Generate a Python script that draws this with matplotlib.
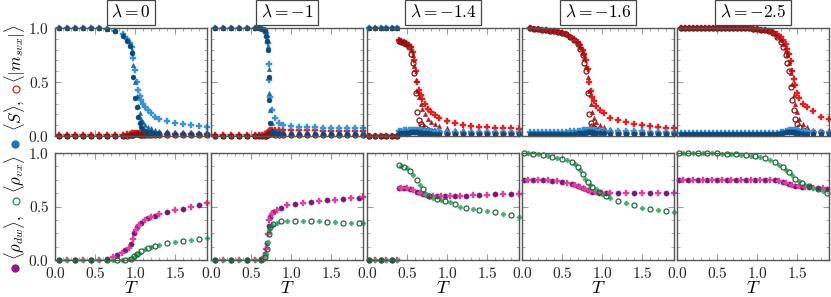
import matplotlib
matplotlib.use('Agg')
import matplotlib.pyplot as plt
from matplotlib.lines import Line2D
from matplotlib.ticker import MultipleLocator

plt.rcParams['mathtext.fontset'] = 'cm'
plt.rcParams['font.family'] = ['DejaVu Serif']

# ---------------- labels ----------------
title_labels = [r'$\lambda = 0$', r'$\lambda = -1$', r'$\lambda = -1.4$',
                r'$\lambda = -1.6$', r'$\lambda = -2.5$']
xtick_vals = [0.0, 0.5, 1.0, 1.5]
xtick_labels = ['$0.0$', '$0.5$', '$1.0$', '$1.5$']
ytick_vals = [0.0, 0.5, 1.0]
ytick_labels = ['$0.0$', '$0.5$', '$1.0$']

# ---------------- top row data: <S> (blue) and <|m_svx|> (red), three sizes ----------------
# lambda = 0
T_top_1 = [0.05,0.15,0.25,0.35,0.45,0.55,0.65,0.75,0.85,0.9,0.94,0.96,0.98,1.0,1.02,1.04,1.06,1.08,1.1,1.13,1.16,1.2,1.25,1.3,1.4,1.5,1.6,1.7,1.8,1.9]
S_big_1 = [1,1,1,1,1,1,0.99,0.97,0.93,0.88,0.83,0.77,0.55,0.35,0.27,0.18,0.12,0.08,0.06,0.05,0.04,0.035,0.03,0.03,0.025,0.02,0.02,0.02,0.02,0.02]
S_mid_1 = [1,1,1,1,1,1,0.99,0.97,0.94,0.9,0.85,0.8,0.66,0.5,0.37,0.28,0.21,0.16,0.13,0.1,0.085,0.07,0.06,0.05,0.045,0.04,0.035,0.035,0.03,0.03]
S_small_1 = [1,1,1,1,1,1,0.99,0.97,0.94,0.9,0.86,0.82,0.72,0.61,0.5,0.43,0.37,0.33,0.3,0.27,0.24,0.21,0.18,0.16,0.14,0.12,0.11,0.1,0.09,0.08]
m_big_1 = [0,0,0,0,0,0,0,0,0,0,0.005,0.01,0.01,0.015,0.015,0.015,0.01,0.01,0.01,0.01,0.01,0.01,0.01,0.01,0.01,0.01,0.01,0.01,0.01,0.01]
m_mid_1 = [0,0,0,0,0,0,0,0,0,0.005,0.01,0.015,0.02,0.02,0.02,0.02,0.015,0.015,0.015,0.015,0.015,0.015,0.015,0.015,0.015,0.015,0.015,0.015,0.015,0.015]
m_small_1 = [0.005,0.005,0.005,0.005,0.005,0.005,0.005,0.01,0.01,0.015,0.02,0.025,0.03,0.03,0.03,0.03,0.03,0.025,0.025,0.025,0.025,0.02,0.02,0.02,0.02,0.02,0.02,0.02,0.02,0.02]

# lambda = -1
T_top_2 = [0.05,0.15,0.25,0.35,0.45,0.55,0.6,0.64,0.67,0.69,0.7,0.71,0.72,0.73,0.74,0.76,0.8,0.85,0.9,1.0,1.1,1.2,1.3,1.4,1.5,1.6,1.7,1.8,1.9]
S_big_2 = [1,1,1,1,1,1,1,0.99,0.97,0.93,0.88,0.8,0.55,0.33,0.12,0.05,0.03,0.03,0.02,0.02,0.02,0.02,0.02,0.02,0.02,0.02,0.02,0.02,0.02]
S_mid_2 = [1,1,1,1,1,1,1,0.99,0.97,0.94,0.9,0.83,0.62,0.4,0.24,0.12,0.06,0.05,0.045,0.04,0.035,0.035,0.03,0.03,0.03,0.03,0.03,0.03,0.03]
S_small_2 = [1,1,1,1,1,1,1,0.99,0.98,0.95,0.92,0.86,0.67,0.52,0.36,0.24,0.17,0.12,0.1,0.09,0.085,0.08,0.08,0.075,0.075,0.07,0.07,0.07,0.07]
m_big_2 = [0,0,0,0,0,0,0,0,0,0,0.005,0.01,0.02,0.025,0.02,0.015,0.01,0.01,0.01,0.01,0.01,0.01,0.01,0.01,0.01,0.01,0.01,0.01,0.01]
m_mid_2 = [0,0,0,0,0,0,0,0,0.005,0.01,0.015,0.02,0.03,0.035,0.035,0.03,0.025,0.02,0.02,0.02,0.02,0.02,0.02,0.02,0.02,0.02,0.02,0.02,0.02]
m_small_2 = [0.005,0.005,0.005,0.005,0.005,0.005,0.01,0.01,0.015,0.02,0.025,0.03,0.04,0.05,0.055,0.06,0.06,0.06,0.06,0.055,0.055,0.055,0.055,0.05,0.05,0.05,0.05,0.05,0.05]

# lambda = -1.4
T_top_3 = [0.03,0.1,0.17,0.24,0.31,0.37,0.4,0.43,0.46,0.49,0.52,0.55,0.57,0.59,0.61,0.63,0.65,0.67,0.69,0.72,0.76,0.8,0.85,0.9,1.0,1.1,1.2,1.3,1.4,1.5,1.6,1.7,1.8,1.9]
S_big_3 = [1,1,1,1,1,1,0.03,0.03,0.03,0.03,0.03,0.035,0.035,0.035,0.035,0.035,0.03,0.03,0.03,0.025,0.025,0.02,0.02,0.02,0.02,0.02,0.02,0.02,0.02,0.02,0.02,0.02,0.02,0.02]
S_mid_3 = [1,1,1,1,1,1,0.04,0.04,0.04,0.045,0.045,0.045,0.05,0.05,0.05,0.05,0.045,0.045,0.04,0.04,0.035,0.035,0.03,0.03,0.03,0.03,0.03,0.03,0.03,0.03,0.03,0.03,0.03,0.03]
S_small_3 = [1,1,1,1,1,1,0.05,0.05,0.055,0.055,0.06,0.06,0.06,0.06,0.06,0.06,0.06,0.055,0.055,0.05,0.05,0.05,0.045,0.045,0.04,0.04,0.04,0.04,0.04,0.04,0.04,0.04,0.04,0.04]
m_big_3 = [0,0,0,0,0,0,0.88,0.87,0.86,0.85,0.82,0.76,0.68,0.58,0.4,0.22,0.15,0.11,0.09,0.07,0.06,0.05,0.04,0.035,0.03,0.03,0.03,0.03,0.03,0.03,0.03,0.03,0.03,0.03]
m_mid_3 = [0,0,0,0,0,0,0.88,0.87,0.86,0.85,0.83,0.8,0.75,0.65,0.52,0.42,0.36,0.3,0.25,0.2,0.16,0.13,0.11,0.09,0.07,0.06,0.055,0.05,0.05,0.045,0.045,0.04,0.04,0.04]
m_small_3 = [0,0,0,0,0,0,0.89,0.88,0.87,0.86,0.84,0.82,0.78,0.7,0.6,0.5,0.43,0.38,0.34,0.3,0.25,0.22,0.19,0.17,0.14,0.12,0.1,0.09,0.085,0.08,0.075,0.07,0.07,0.065]

# lambda = -1.6
T_top_4 = [0.1,0.15,0.2,0.25,0.3,0.35,0.4,0.45,0.5,0.55,0.6,0.65,0.7,0.73,0.76,0.78,0.8,0.82,0.84,0.86,0.88,0.9,0.93,0.97,1.02,1.1,1.2,1.3,1.4,1.5,1.6,1.7,1.8,1.9]
S_big_4 = [0.02,0.02,0.02,0.02,0.02,0.02,0.02,0.02,0.02,0.02,0.02,0.02,0.025,0.025,0.03,0.03,0.03,0.035,0.035,0.035,0.03,0.03,0.03,0.025,0.025,0.02,0.02,0.02,0.02,0.02,0.02,0.02,0.02,0.02]
S_mid_4 = [0.03,0.03,0.03,0.03,0.03,0.03,0.03,0.03,0.03,0.03,0.03,0.035,0.035,0.04,0.04,0.045,0.045,0.05,0.05,0.05,0.045,0.045,0.04,0.04,0.035,0.035,0.03,0.03,0.03,0.03,0.03,0.03,0.03,0.03]
S_small_4 = [0.04,0.04,0.04,0.04,0.04,0.04,0.04,0.04,0.04,0.04,0.045,0.045,0.05,0.05,0.055,0.055,0.06,0.06,0.06,0.06,0.06,0.055,0.055,0.05,0.05,0.05,0.045,0.045,0.045,0.045,0.04,0.04,0.04,0.04]
m_big_4 = [1.0,0.995,0.99,0.985,0.98,0.975,0.97,0.96,0.95,0.94,0.92,0.89,0.85,0.81,0.75,0.68,0.6,0.4,0.2,0.12,0.09,0.07,0.06,0.05,0.04,0.035,0.03,0.03,0.03,0.03,0.03,0.03,0.03,0.03]
m_mid_4 = [1.0,0.995,0.99,0.985,0.98,0.975,0.97,0.96,0.95,0.94,0.92,0.89,0.86,0.82,0.77,0.72,0.65,0.55,0.42,0.3,0.22,0.17,0.13,0.1,0.08,0.065,0.055,0.05,0.05,0.045,0.04,0.04,0.04,0.04]
m_small_4 = [1.0,0.995,0.99,0.985,0.98,0.975,0.97,0.96,0.95,0.94,0.92,0.9,0.87,0.84,0.8,0.76,0.7,0.62,0.5,0.42,0.36,0.32,0.28,0.24,0.21,0.17,0.15,0.13,0.11,0.1,0.09,0.08,0.075,0.07]

# lambda = -2.5
T_top_5 = [0.05,0.1,0.15,0.2,0.25,0.3,0.35,0.4,0.45,0.5,0.55,0.6,0.65,0.7,0.75,0.8,0.85,0.9,0.95,1.0,1.05,1.1,1.15,1.2,1.25,1.3,1.33,1.36,1.38,1.4,1.42,1.44,1.46,1.48,1.5,1.53,1.57,1.62,1.7,1.8,1.9]
S_big_5 = [0.02,0.02,0.02,0.02,0.02,0.02,0.02,0.02,0.02,0.02,0.02,0.02,0.02,0.02,0.02,0.02,0.02,0.02,0.02,0.02,0.02,0.02,0.02,0.02,0.02,0.025,0.03,0.035,0.04,0.04,0.04,0.04,0.035,0.03,0.03,0.025,0.02,0.02,0.02,0.02,0.02]
S_mid_5 = [0.025,0.025,0.025,0.025,0.025,0.025,0.025,0.025,0.025,0.025,0.025,0.025,0.025,0.025,0.025,0.025,0.025,0.025,0.025,0.025,0.025,0.025,0.025,0.025,0.025,0.03,0.035,0.04,0.045,0.05,0.05,0.05,0.05,0.045,0.045,0.04,0.035,0.03,0.03,0.025,0.025]
S_small_5 = [0.03,0.03,0.03,0.03,0.03,0.03,0.03,0.03,0.03,0.03,0.03,0.03,0.03,0.03,0.03,0.03,0.03,0.03,0.03,0.03,0.03,0.03,0.03,0.03,0.03,0.035,0.04,0.045,0.05,0.055,0.06,0.06,0.06,0.06,0.055,0.05,0.05,0.045,0.04,0.04,0.035]
m_big_5 = [1,1,1,1,1,1,1,1,1,1,1,1,1,1,1,1,1,1,0.995,0.99,0.985,0.98,0.97,0.95,0.92,0.87,0.82,0.75,0.68,0.6,0.45,0.33,0.24,0.16,0.11,0.08,0.06,0.05,0.04,0.035,0.03]
m_mid_5 = [1,1,1,1,1,1,1,1,1,1,1,1,1,1,1,1,1,1,0.995,0.99,0.985,0.98,0.97,0.955,0.93,0.89,0.85,0.8,0.75,0.68,0.58,0.48,0.38,0.3,0.22,0.16,0.11,0.08,0.06,0.05,0.045]
m_small_5 = [1,1,1,1,1,1,1,1,1,1,1,1,1,1,1,1,1,1,0.995,0.99,0.985,0.98,0.975,0.965,0.945,0.92,0.89,0.85,0.81,0.76,0.69,0.6,0.53,0.47,0.4,0.35,0.3,0.27,0.23,0.18,0.16]

# ---------------- bottom row data: <rho_dw> (purple) and <rho_vx> (green) ----------------
T_bot_1 = [0.05,0.15,0.25,0.35,0.45,0.55,0.65,0.72,0.78,0.84,0.88,0.92,0.95,0.97,0.99,1.01,1.03,1.05,1.08,1.12,1.16,1.2,1.25,1.3,1.4,1.5,1.6,1.7,1.8,1.9]
dw_1 = [0,0,0,0,0,0,0.01,0.03,0.05,0.07,0.09,0.11,0.15,0.2,0.25,0.28,0.31,0.33,0.35,0.37,0.39,0.4,0.41,0.43,0.45,0.47,0.48,0.5,0.51,0.53]
vx_1 = [0,0,0,0,0,0,0,0,0,0,0,0.005,0.01,0.02,0.035,0.05,0.06,0.07,0.085,0.1,0.11,0.12,0.13,0.14,0.16,0.17,0.18,0.19,0.2,0.21]

T_bot_2 = [0.05,0.15,0.25,0.35,0.45,0.55,0.62,0.66,0.68,0.69,0.7,0.71,0.72,0.73,0.74,0.76,0.78,0.82,0.87,0.95,1.05,1.15,1.25,1.35,1.45,1.55,1.65,1.75,1.85,1.9]
dw_2 = [0,0,0,0,0,0,0.01,0.03,0.06,0.1,0.16,0.24,0.32,0.37,0.4,0.43,0.45,0.47,0.49,0.51,0.52,0.53,0.54,0.55,0.56,0.56,0.57,0.58,0.58,0.59]
vx_2 = [0,0,0,0,0,0,0,0.01,0.03,0.06,0.1,0.17,0.24,0.28,0.31,0.33,0.34,0.35,0.36,0.36,0.36,0.36,0.36,0.36,0.355,0.355,0.35,0.35,0.35,0.35]

T_bot_3 = [0.03,0.1,0.17,0.24,0.31,0.37,0.4,0.43,0.46,0.5,0.54,0.58,0.62,0.66,0.7,0.74,0.78,0.82,0.87,0.92,0.98,1.04,1.1,1.16,1.24,1.32,1.4,1.5,1.6,1.7,1.8,1.9]
dw_3 = [0,0,0,0,0,0,0.67,0.67,0.67,0.67,0.66,0.65,0.64,0.63,0.62,0.61,0.6,0.6,0.6,0.6,0.6,0.6,0.6,0.6,0.6,0.605,0.61,0.61,0.615,0.62,0.62,0.62]
vx_3 = [0,0,0,0,0,0,0.89,0.88,0.87,0.86,0.83,0.79,0.75,0.7,0.66,0.62,0.6,0.58,0.57,0.56,0.55,0.54,0.52,0.5,0.49,0.48,0.47,0.46,0.45,0.43,0.42,0.4]

T_bot_4 = [0.02,0.08,0.14,0.2,0.26,0.32,0.38,0.44,0.5,0.56,0.62,0.66,0.7,0.73,0.76,0.79,0.82,0.85,0.88,0.92,0.96,1.0,1.05,1.1,1.2,1.3,1.4,1.5,1.6,1.7,1.8,1.9]
dw_4 = [0.75,0.75,0.75,0.75,0.75,0.745,0.74,0.735,0.73,0.72,0.71,0.7,0.69,0.68,0.67,0.66,0.65,0.645,0.64,0.635,0.63,0.63,0.63,0.63,0.63,0.63,0.63,0.63,0.63,0.63,0.63,0.63]
vx_4 = [1.0,1.0,0.995,0.99,0.985,0.975,0.965,0.955,0.945,0.93,0.92,0.9,0.87,0.84,0.8,0.76,0.73,0.7,0.68,0.66,0.64,0.62,0.6,0.58,0.555,0.53,0.51,0.49,0.48,0.47,0.46,0.45]

T_bot_5 = [0.02,0.08,0.14,0.2,0.26,0.32,0.38,0.44,0.5,0.56,0.62,0.68,0.74,0.8,0.86,0.92,0.98,1.04,1.1,1.16,1.22,1.28,1.32,1.36,1.4,1.44,1.48,1.52,1.56,1.6,1.65,1.7,1.76,1.82,1.88]
dw_5 = [0.75,0.75,0.75,0.75,0.75,0.75,0.75,0.75,0.75,0.75,0.75,0.75,0.75,0.75,0.75,0.75,0.75,0.75,0.75,0.75,0.745,0.74,0.73,0.72,0.71,0.7,0.695,0.69,0.685,0.68,0.68,0.675,0.67,0.67,0.665]
vx_5 = [1.0,1.0,1.0,1.0,1.0,1.0,1.0,1.0,1.0,0.995,0.995,0.99,0.99,0.985,0.98,0.975,0.97,0.96,0.95,0.935,0.915,0.89,0.87,0.845,0.82,0.79,0.76,0.74,0.72,0.705,0.69,0.675,0.66,0.645,0.63]

top_T = [T_top_1, T_top_2, T_top_3, T_top_4, T_top_5]
top_S = [(S_big_1, S_mid_1, S_small_1), (S_big_2, S_mid_2, S_small_2),
         (S_big_3, S_mid_3, S_small_3), (S_big_4, S_mid_4, S_small_4),
         (S_big_5, S_mid_5, S_small_5)]
top_m = [(m_big_1, m_mid_1, m_small_1), (m_big_2, m_mid_2, m_small_2),
         (m_big_3, m_mid_3, m_small_3), (m_big_4, m_mid_4, m_small_4),
         (m_big_5, m_mid_5, m_small_5)]
bot_T = [T_bot_1, T_bot_2, T_bot_3, T_bot_4, T_bot_5]
bot_dw = [dw_1, dw_2, dw_3, dw_4, dw_5]
bot_vx = [vx_1, vx_2, vx_3, vx_4, vx_5]

# ---------------- styling ----------------
W, H = 831, 297
fig = plt.figure(figsize=(W / 100, H / 100), dpi=100)

col_left = [55, 211, 367, 522, 677]
col_w = 152
top_rows = (28, 136)
bot_rows = (153, 260)

spine_col = '#555555'
tick_col = '#9a9a9a'

blue_dark, blue_mid, blue_light = '#0d4a7c', '#1b6aa5', '#3c93d2'
red_dark, red_mid, red_light = '#8a1212', '#b01a1a', '#dc2424'
purple, magenta = '#761a78', '#e0409e'
green_dark, green_light = '#1b6a3a', '#44a868'


def style_axes(ax, minor_y, show_x, show_y):
    ax.set_xlim(0, 1.9)
    ax.set_ylim(0, 1)
    for s in ax.spines.values():
        s.set_color(spine_col)
        s.set_linewidth(1.0)
    ax.set_xticks(xtick_vals)
    ax.set_yticks(ytick_vals)
    ax.xaxis.set_minor_locator(MultipleLocator(0.1))
    ax.yaxis.set_minor_locator(MultipleLocator(minor_y))
    ax.tick_params(which='both', direction='in', top=True, right=True,
                   color=tick_col, labelsize=11, labelcolor='#222222')
    ax.tick_params(which='major', length=4, width=0.8)
    ax.tick_params(which='minor', length=2.2, width=0.6)
    ax.tick_params(axis='x', pad=4)
    ax.tick_params(axis='y', pad=4)
    if show_x:
        ax.set_xticklabels(xtick_labels)
    else:
        ax.set_xticklabels([])
    if show_y:
        ax.set_yticklabels(ytick_labels)
    else:
        ax.set_yticklabels([])


for i in range(5):
    # top
    axt = fig.add_axes([col_left[i] / W, 1 - top_rows[1] / H, col_w / W,
                        (top_rows[1] - top_rows[0]) / H])
    style_axes(axt, 0.1, False, i == 0)
    T = top_T[i]
    Sb, Sm, Ss = top_S[i]
    mb, mm, ms = top_m[i]
    kw = dict(ls='none', clip_on=False)
    axt.plot(T, ms, marker='P', ms=3.8, color=red_light, mec=red_light, mew=0.3, **kw)
    axt.plot(T, mm, marker='^', ms=3.2, color=red_mid, mec=red_mid, mew=0.3, **kw)
    axt.plot(T, mb, marker='o', ms=3.6, mfc='none', mec=red_dark, mew=0.9, **kw)
    axt.plot(T, Ss, marker='P', ms=3.8, color=blue_light, mec=blue_light, mew=0.3, **kw)
    axt.plot(T, Sm, marker='^', ms=3.2, color=blue_mid, mec=blue_mid, mew=0.3, **kw)
    axt.plot(T, Sb, marker='o', ms=3.6, color=blue_dark, mec=blue_dark, mew=0.3, **kw)

    # bottom
    axb = fig.add_axes([col_left[i] / W, 1 - bot_rows[1] / H, col_w / W,
                        (bot_rows[1] - bot_rows[0]) / H])
    style_axes(axb, 0.125, True, i == 0)
    Tb = bot_T[i]
    axb.plot(Tb[::2], bot_dw[i][::2], marker='o', ms=3.8, color=purple, mec=purple, mew=0.3, **kw)
    axb.plot(Tb[1::2], bot_dw[i][1::2], marker='P', ms=3.8, color=magenta, mec=magenta, mew=0.3, **kw)
    axb.plot(Tb[1::2], bot_vx[i][1::2], marker='P', ms=3.5, color=green_light, mec=green_light, mew=0.3, **kw)
    axb.plot(Tb[::2], bot_vx[i][::2], marker='o', ms=3.6, mfc='none', mec=green_dark, mew=0.9, **kw)
    axb.set_xlabel('$T$', fontsize=13, labelpad=-1)

    # title box
    fig.text((col_left[i] + col_w / 2) / W, 1 - 12.5 / H, title_labels[i],
             ha='center', va='center', fontsize=12.5,
             bbox=dict(boxstyle='square,pad=0.25', fc='white', ec='#444444', lw=0.9))

# y-axis labels with marker legend
def fig_marker(xp, yp, **kw):
    fig.add_artist(Line2D([xp / W], [1 - yp / H], transform=fig.transFigure, ls='none', **kw))

fig_marker(15, 144, marker='o', ms=5, color='#1a74b6', mec='#1a74b6')
fig.text(15 / W, 1 - 115 / H, r'$\langle S\rangle,$', rotation=90, ha='center', va='center', fontsize=12)
fig_marker(16, 89, marker='o', ms=5, mfc='none', mec='#d62728', mew=0.9)
fig.text(15 / W, 1 - 54 / H, r'$\langle |m_{svx}|\rangle$', rotation=90, ha='center', va='center', fontsize=12)

fig_marker(15, 268, marker='o', ms=5, color='#8e1a8c', mec='#8e1a8c')
fig.text(15 / W, 1 - 237 / H, r'$\langle \rho_{dw}\rangle,$', rotation=90, ha='center', va='center', fontsize=12)
fig_marker(16, 201, marker='o', ms=5, mfc='none', mec='#2e8b57', mew=0.9)
fig.text(15 / W, 1 - 174 / H, r'$\langle \rho_{vx}\rangle$', rotation=90, ha='center', va='center', fontsize=12)

fig.savefig('out.png', dpi=100)
